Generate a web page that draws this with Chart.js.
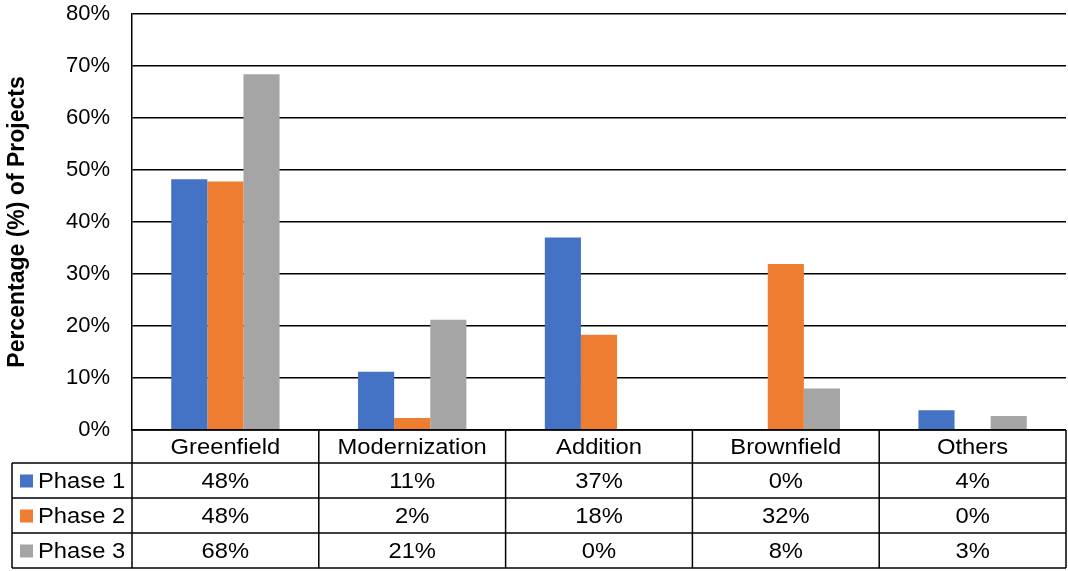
<!DOCTYPE html>
<html>
<head>
<meta charset="utf-8">
<script src="https://cdn.jsdelivr.net/npm/chart.js@4/dist/chart.umd.min.js"></script>
<style>
  html, body { margin: 0; padding: 0; background: #fff; }
  #wrap { width: 1068px; height: 571px; position: relative; }
</style>
</head>
<body>
<div id="wrap"><canvas id="chart"></canvas></div>
<script>
// ===== Data =====
const categories = ["Greenfield", "Modernization", "Addition", "Brownfield", "Others"];
const phase1 = [48.2, 11.2, 37.0, 0, 3.8];
const phase2 = [47.8, 2.3, 18.3, 31.9, 0];
const phase3 = [68.4, 21.2, 0, 8.0, 2.7];
const seriesNames = ["Phase 1", "Phase 2", "Phase 3"];
const seriesColors = ["#4472c4", "#ed7d31", "#a5a5a5"];
const yTicks = [0, 10, 20, 30, 40, 50, 60, 70, 80];

const FONT = "'Liberation Sans', Arial, sans-serif";

// ===== Data table drawn under the plot =====
const dataTablePlugin = {
  id: "dataTable",
  afterDraw(chart) {
    const ctx = chart.ctx;
    const area = chart.chartArea;
    const x = chart.scales.x;
    const rowH = [33, 35, 35, 35];
    const labelLeft = 12;
    const top = area.bottom;
    const series = [phase1, phase2, phase3];
    const half = (x.getPixelForValue(1) - x.getPixelForValue(0)) / 2;

    // text slightly wider than the font, like the original
    const text = (s, tx, ty, align) => {
      ctx.save();
      ctx.translate(tx, ty);
      ctx.scale(1.08, 1);
      ctx.textAlign = align;
      ctx.fillText(s, 0, 0);
      ctx.restore();
    };

    ctx.save();
    ctx.strokeStyle = "#000";
    ctx.lineWidth = 1.5;
    ctx.font = "22px " + FONT;
    ctx.fillStyle = "#000";
    ctx.textBaseline = "middle";

    // row lines
    let y = top;
    const ys = [y];
    rowH.forEach(h => { y += h; ys.push(y); });
    ys.forEach((yy, i) => {
      ctx.beginPath();
      ctx.moveTo(i >= 1 ? labelLeft : area.left, yy);
      ctx.lineTo(area.right, yy);
      ctx.stroke();
    });

    // vertical lines
    const bottom = ys[ys.length - 1];
    ctx.beginPath();
    ctx.moveTo(labelLeft, ys[1]); ctx.lineTo(labelLeft, bottom);
    ctx.stroke();
    for (let i = 0; i <= categories.length; i++) {
      const xx = i < categories.length ? x.getPixelForValue(i) - half : area.right;
      ctx.beginPath();
      ctx.moveTo(xx, top); ctx.lineTo(xx, bottom);
      ctx.stroke();
    }

    // header
    categories.forEach((c, i) => {
      text(c, x.getPixelForValue(i), (ys[0] + ys[1]) / 2 + 1, "center");
    });

    // rows
    series.forEach((vals, r) => {
      const cy = (ys[r + 1] + ys[r + 2]) / 2 + 1;
      ctx.fillStyle = seriesColors[r];
      ctx.fillRect(20, cy - 7, 13, 13);
      ctx.fillStyle = "#000";
      text(seriesNames[r], 38, cy, "left");
      vals.forEach((v, i) => {
        text(Math.round(v) + "%", x.getPixelForValue(i), cy, "center");
      });
    });
    ctx.restore();
  }
};

// ===== Chart =====
function createChart() {
  const ctx = document.getElementById("chart").getContext("2d");
  new Chart(ctx, {
    type: "bar",
    data: {
      labels: categories,
      datasets: [phase1, phase2, phase3].map((d, i) => ({
        label: seriesNames[i],
        data: d,
        backgroundColor: seriesColors[i],
        borderWidth: 0,
        categoryPercentage: 0.58,
        barPercentage: 1.0
      }))
    },
    options: {
      responsive: true,
      maintainAspectRatio: false,
      animation: false,
      layout: { padding: { top: 14, right: 2, bottom: 141, left: 0 } },
      plugins: {
        legend: { display: false },
        tooltip: { enabled: false }
      },
      scales: {
        x: {
          display: false
        },
        y: {
          min: 0,
          max: 80,
          afterBuildTicks(scale) {
            scale.ticks = yTicks.map(v => ({ value: v }));
          },
          afterFit(scale) {
            scale.width = 132;
            scale.paddingTop = 0;
            scale.paddingBottom = 0;
          },
          border: { display: true, color: "#000", width: 1.5 },
          grid: { color: "#000", lineWidth: 1.5, drawTicks: false },
          ticks: {
            color: "#000",
            padding: 22,
            font: { family: FONT, size: 22 },
            callback: v => v + "%"
          },
          title: {
            display: true,
            text: "Percentage (%) of Projects",
            color: "#000",
            padding: { top: 4, bottom: 0 },
            font: { family: FONT, size: 23, weight: "bold" }
          }
        }
      }
    },
    plugins: [dataTablePlugin]
  });
}

document.addEventListener("DOMContentLoaded", createChart);
</script>
</body>
</html>
